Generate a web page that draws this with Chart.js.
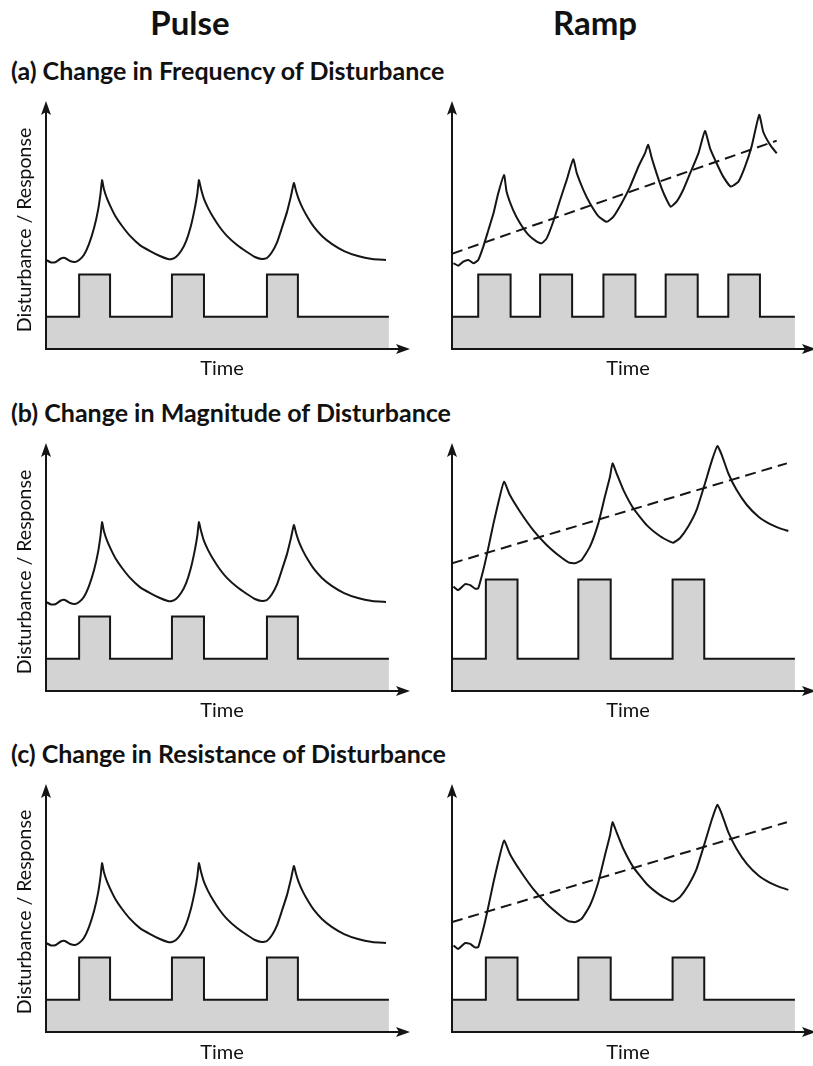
<!DOCTYPE html>
<html>
<head>
<meta charset="utf-8">
<script src="https://cdn.jsdelivr.net/npm/chart.js@4.4.0/dist/chart.umd.min.js"></script>
<style>
    body { margin: 0; width: 813px; height: 1066px; overflow: hidden; background: #fff; position: relative; font-family: Lato, "Open Sans", sans-serif; color: #111; }
    canvas { position: absolute; }
    .lbl { position: absolute; white-space: nowrap; transform: translate(-50%, -50%); }
    .head { font-size: 33px; font-weight: 700; }
    .sub { position: absolute; left: 11px; white-space: nowrap; font-size: 25px; font-weight: 700; transform: translateY(-50%); }
    .time { font-size: 20px; }
    .ylab { font-size: 19.5px; transform: translate(-50%, -50%) rotate(-90deg); }
</style>
</head>
<body>

<div class="lbl head" style="left:190px; top:22px;">Pulse</div>
<div class="lbl head" style="left:595px; top:22px;">Ramp</div>

<div class="sub" style="top:70px;">(a) Change in Frequency of Disturbance</div>
<div class="sub" style="top:412px;">(b) Change in Magnitude of Disturbance</div>
<div class="sub" style="top:753px;">(c) Change in Resistance of Disturbance</div>

<canvas id="pulseA" width="420" height="270" style="left:0; top:90px;"></canvas>
<canvas id="rampA" width="420" height="270" style="left:406px; top:90px;"></canvas>
<canvas id="pulseB" width="420" height="270" style="left:0; top:432px;"></canvas>
<canvas id="rampB" width="420" height="270" style="left:406px; top:432px;"></canvas>
<canvas id="pulseC" width="420" height="270" style="left:0; top:773px;"></canvas>
<canvas id="rampC" width="420" height="270" style="left:406px; top:773px;"></canvas>

<div class="lbl ylab" style="left:23px; top:230px;">Disturbance / Response</div>
<div class="lbl ylab" style="left:23px; top:572px;">Disturbance / Response</div>
<div class="lbl ylab" style="left:23px; top:912px;">Disturbance / Response</div>

<div class="lbl time" style="left:222px; top:367px;">Time</div>
<div class="lbl time" style="left:628px; top:367px;">Time</div>
<div class="lbl time" style="left:222px; top:709px;">Time</div>
<div class="lbl time" style="left:628px; top:709px;">Time</div>
<div class="lbl time" style="left:222px; top:1051px;">Time</div>
<div class="lbl time" style="left:628px; top:1051px;">Time</div>

<script>
// time runs 0-100 along the x axis, level 0-100 up the y axis (arrow tips = 100)

// Pulse column (same picture in all three rows)
const pulseStepT = [0, 9.1, 9.1, 17.6, 17.6, 34.6, 34.6, 43.4, 43.4, 60.7, 60.7, 69.2, 69.2, 94.2];
const pulseStepV = [13, 13, 30, 30, 13, 13, 30, 30, 13, 13, 30, 30, 13, 13];
const pulseRespT = [0, 1.4, 2.7, 4.1, 5.2, 6.6, 8.0, 9.1, 10.4, 11.8, 13.2, 14.3, 15.0, 15.4,
    15.9, 16.8, 17.9, 19.2, 20.9, 23.1, 25.8, 28.6, 31.3, 33.5, 34.6,
    35.7, 37.1, 38.5, 39.8, 40.9, 41.6, 42.0,
    42.6, 43.4, 44.5, 45.9, 47.5, 49.7, 52.5, 55.2, 57.4, 59.3,
    60.7, 62.1, 63.5, 64.8, 66.2, 67.3, 68.1,
    68.7, 69.5, 70.6, 72.0, 73.6, 75.8, 78.6, 81.9, 85.7, 89.6, 93.4];
const pulseRespV = [35.9, 34.9, 35.1, 36.5, 36.7, 35.5, 35.1, 35.9, 37.9, 42.3, 48.8, 56.0, 62.9, 68.1,
    64.5, 60.5, 56.9, 53.2, 49.6, 45.6, 41.9, 39.5, 37.5, 36.3, 36.3,
    37.1, 39.5, 43.5, 49.6, 56.9, 62.9, 68.1,
    64.5, 60.5, 56.9, 53.2, 49.6, 45.6, 41.9, 39.1, 37.1, 36.3,
    36.7, 39.1, 43.1, 48.8, 55.2, 61.7, 66.9,
    63.7, 60.1, 56.5, 52.8, 49.2, 45.6, 42.3, 39.5, 37.5, 36.3, 35.9];

// Ramp (a) - frequency
const rampAStepT = [0, 7.2, 7.2, 16.1, 16.1, 24.2, 24.2, 33.0, 33.0, 41.6, 41.6, 50.4, 50.4, 58.7, 58.7, 67.5, 67.5, 75.9, 75.9, 84.6, 84.6, 94.2];
const rampAStepV = [13, 13, 30, 30, 13, 13, 30, 30, 13, 13, 30, 30, 13, 13, 30, 30, 13, 13, 30, 30, 13, 13];
const rampARespT = [0.4, 1.7, 3.1, 4.5, 5.9, 7.2, 8.6, 10.0, 11.4, 12.7, 14.3,
    15.0, 16.8, 18.7, 21.0, 23.3, 24.6, 26.0, 27.8, 29.7, 31.5, 33.3,
    34.3, 36.1, 37.9, 40.2, 42.5, 44.3, 46.6, 48.9, 51.2, 53.0, 53.9,
    54.9, 56.2, 57.6, 59.0, 60.1, 61.7, 63.5, 65.4, 67.7, 69.5,
    70.9, 72.7, 74.5, 76.6, 78.7, 80.5, 82.3, 84.4, 85.5, 87.4, 89.2];
const rampARespV = [34.6, 33.6, 35.2, 35.9, 34.6, 35.9, 41.3, 48.0, 54.7, 62.8, 70.2,
    63.4, 56.0, 50.7, 46.0, 43.3, 42.6, 44.6, 51.3, 60.1, 68.1, 76.5,
    70.8, 64.1, 58.8, 53.6, 51.3, 53.3, 58.8, 65.4, 73.5, 78.9, 82.3,
    76.9, 70.8, 64.8, 60.1, 57.4, 59.4, 64.1, 70.8, 78.9, 87.9,
    80.9, 74.9, 69.5, 65.5, 67.5, 73.5, 81.6, 94.4, 87.6, 82.3, 78.9];
const rampATrendT = [0, 89.2];
const rampATrendV = [38.4, 84.0];

// Ramp (b) - magnitude
const rampBStepT = [0, 9.3, 9.3, 18.0, 18.0, 34.7, 34.7, 43.6, 43.6, 60.6, 60.6, 69.3, 69.3, 94.2];
const rampBStepV = [13, 13, 45, 45, 13, 13, 45, 45, 13, 13, 45, 45, 13, 13];
const rampBRespT = [0.4, 1.7, 3.6, 5.0, 6.3, 7.2, 8.6, 9.7, 11.4, 12.9, 14.3,
    15.9, 18.7, 22.3, 26.0, 29.7, 32.0, 33.8,
    35.6, 37.9, 40.2, 42.0, 43.4, 44.1,
    45.2, 47.1, 49.8, 53.5, 57.1, 59.9, 60.8,
    62.6, 64.9, 67.2, 69.5, 71.3, 72.9,
    74.1, 75.9, 78.2, 81.0, 84.2, 87.4, 90.1, 92.4];
const rampBRespV = [42.1, 40.7, 43.1, 42.7, 41.3, 41.4, 48.8, 55.8, 67.6, 77.0, 84.4,
    79.0, 72.3, 64.9, 58.9, 54.2, 51.9, 51.5,
    52.8, 58.2, 67.6, 78.4, 86.4, 91.8,
    87.8, 81.0, 73.7, 66.9, 62.5, 60.2, 59.8,
    61.6, 66.3, 73.0, 83.7, 92.5, 98.8,
    95.2, 87.8, 81.0, 75.0, 70.3, 67.3, 65.6, 64.5];
const rampBTrendT = [0, 92];
const rampBTrendV = [51.5, 91.8];

// Ramp (c) - resistance
const rampCStepT = [0, 9.3, 9.3, 18.0, 18.0, 34.7, 34.7, 43.6, 43.6, 60.6, 60.6, 69.3, 69.3, 94.2];
const rampCStepV = [13, 13, 30, 30, 13, 13, 30, 30, 13, 13, 30, 30, 13, 13];
const rampCRespT = [0.4, 1.7, 3.6, 5.0, 6.3, 7.2, 8.6, 9.7, 11.4, 12.9, 14.3,
    15.9, 18.7, 22.3, 26.0, 29.7, 32.0, 33.8,
    35.6, 37.9, 40.2, 42.0, 43.4, 44.1,
    45.2, 47.1, 49.8, 53.5, 57.1, 59.9, 60.8,
    62.6, 64.9, 67.2, 69.5, 71.3, 72.9,
    74.1, 75.9, 78.2, 81.0, 84.2, 87.4, 90.1, 92.4];
const rampCRespV = [34.9, 33.5, 35.9, 35.5, 34.1, 34.2, 41.6, 48.6, 60.4, 69.8, 77.2,
    71.8, 65.1, 57.7, 51.7, 47.0, 44.7, 44.3,
    45.6, 51.0, 60.4, 71.2, 79.2, 84.6,
    80.6, 73.8, 66.5, 59.7, 55.3, 53.0, 52.6,
    54.4, 59.1, 65.8, 76.5, 85.3, 91.6,
    88.0, 80.6, 73.8, 67.8, 63.1, 60.1, 58.4, 57.3];
const rampCTrendT = [0, 92];
const rampCTrendV = [44.3, 84.6];

const INK = '#151515';
const GREY = '#d3d3d3';

function pts(ts, vs) {
    return ts.map((t, i) => ({ x: t, y: vs[i] }));
}

// axis lines with arrow heads
const arrowAxes = {
    id: 'arrowAxes',
    afterDatasetsDraw(chart) {
        const { ctx, chartArea: a } = chart;
        ctx.save();
        ctx.strokeStyle = INK;
        ctx.fillStyle = INK;
        ctx.lineWidth = 2;
        ctx.beginPath();
        ctx.moveTo(a.left, a.top + 8);
        ctx.lineTo(a.left, a.bottom);
        ctx.lineTo(a.right - 8, a.bottom);
        ctx.stroke();

        ctx.beginPath();
        ctx.moveTo(a.left, a.top);
        ctx.lineTo(a.left - 5, a.top + 14);
        ctx.lineTo(a.left, a.top + 11);
        ctx.lineTo(a.left + 5, a.top + 14);
        ctx.closePath();
        ctx.fill();

        ctx.beginPath();
        ctx.moveTo(a.right, a.bottom);
        ctx.lineTo(a.right - 14, a.bottom - 5);
        ctx.lineTo(a.right - 11, a.bottom);
        ctx.lineTo(a.right - 14, a.bottom + 5);
        ctx.closePath();
        ctx.fill();
        ctx.restore();
    }
};

function makePanel(id, stepT, stepV, respT, respV, trendT, trendV) {
    const datasets = [{
        data: pts(respT, respV),
        borderColor: INK,
        borderWidth: 2,
        tension: 0.15,
        fill: false,
        order: 1
    }, {
        data: pts(stepT, stepV),
        borderColor: INK,
        borderWidth: 2,
        backgroundColor: GREY,
        tension: 0,
        fill: 'origin',
        order: 3
    }];
    if (trendT) {
        datasets.push({
            data: pts(trendT, trendV),
            borderColor: INK,
            borderWidth: 2,
            borderDash: [11, 6],
            tension: 0,
            fill: false,
            order: 0
        });
    }

    new Chart(document.getElementById(id), {
        type: 'line',
        data: { datasets: datasets },
        options: {
            responsive: false,
            animation: false,
            devicePixelRatio: 1,
            layout: { padding: { left: 46, right: 10, top: 11, bottom: 11 } },
            elements: { point: { radius: 0 } },
            scales: {
                x: { type: 'linear', min: 0, max: 100, display: false },
                y: { type: 'linear', min: 0, max: 100, display: false }
            },
            plugins: {
                legend: { display: false },
                tooltip: { enabled: false }
            }
        },
        plugins: [arrowAxes]
    });
}

makePanel('pulseA', pulseStepT, pulseStepV, pulseRespT, pulseRespV);
makePanel('rampA', rampAStepT, rampAStepV, rampARespT, rampARespV, rampATrendT, rampATrendV);
makePanel('pulseB', pulseStepT, pulseStepV, pulseRespT, pulseRespV);
makePanel('rampB', rampBStepT, rampBStepV, rampBRespT, rampBRespV, rampBTrendT, rampBTrendV);
makePanel('pulseC', pulseStepT, pulseStepV, pulseRespT, pulseRespV);
makePanel('rampC', rampCStepT, rampCStepV, rampCRespT, rampCRespV, rampCTrendT, rampCTrendV);
</script>
</body>
</html>
